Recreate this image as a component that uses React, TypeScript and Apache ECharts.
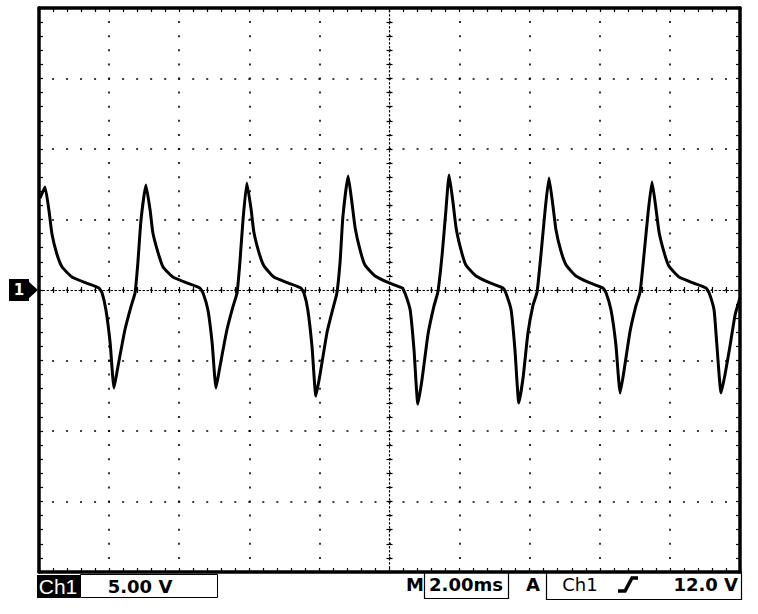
import React, { useEffect, useRef } from "react";
import * as echarts from "echarts";

// Time axis: 2.00 ms/div, 10 divisions. Voltage axis: 5.00 V/div, 8 divisions.
const timeMs: number[] = [
  0.03, 0.17, 0.29, 0.37, 0.51, 0.66, 0.94, 1.34, 1.71, 1.80, 1.91, 2.03, 2.14, 2.25, 2.45, 2.62, 2.74, 2.82, 2.91,
  3.05, 3.17, 3.25, 3.40, 3.54, 3.82, 4.22, 4.59, 4.68, 4.82, 4.94, 5.05, 5.16, 5.36, 5.53, 5.65, 5.73, 5.82,
  5.93, 6.05, 6.13, 6.28, 6.42, 6.70, 7.10, 7.47, 7.56, 7.67, 7.79, 7.90, 8.02, 8.22, 8.39, 8.50, 8.59, 8.67,
  8.82, 8.93, 9.02, 9.16, 9.30, 9.59, 9.99, 10.36, 10.44, 10.59, 10.70, 10.81, 10.93, 11.10, 11.27, 11.38, 11.50, 11.61,
  11.70, 11.81, 11.90, 12.04, 12.18, 12.47, 12.87, 13.24, 13.32, 13.47, 13.58, 13.69, 13.81, 13.95, 14.09, 14.21, 14.32, 14.44,
  14.55, 14.66, 14.75, 14.89, 15.04, 15.32, 15.72, 16.09, 16.18, 16.32, 16.46, 16.58, 16.69, 16.86, 17.03, 17.15, 17.26, 17.38,
  17.49, 17.60, 17.69, 17.83, 17.97, 18.26, 18.66, 19.03, 19.12, 19.26, 19.34, 19.46, 19.57, 19.71, 19.86, 20.0,
];

const voltsCh1: number[] = [
  6.52, 7.30, 5.53, 3.97, 2.55, 1.63, 0.92, 0.50, 0.14, -0.21, -1.42, -3.76, -6.95, -5.46, -2.84, -1.21, -0.21, 1.91, 4.96,
  7.45, 5.67, 4.04, 2.62, 1.63, 0.92, 0.50, 0.14, -0.21, -1.42, -3.76, -6.95, -5.46, -2.84, -1.21, -0.21, 1.91, 4.96,
  7.59, 5.74, 4.11, 2.62, 1.70, 0.92, 0.50, 0.14, -0.21, -1.42, -4.04, -7.52, -5.96, -2.98, -1.28, -0.21, 1.99, 5.18,
  8.09, 6.17, 4.40, 2.84, 1.77, 0.99, 0.50, 0.14, -0.21, -1.42, -4.26, -8.09, -6.31, -3.12, -1.13, -0.14, 2.48, 5.67,
  8.16, 6.24, 4.40, 2.84, 1.77, 0.99, 0.50, 0.14, -0.21, -1.42, -4.26, -8.01, -6.24, -3.05, -1.13, -0.14, 2.48, 5.67,
  7.94, 6.03, 4.26, 2.77, 1.77, 0.99, 0.50, 0.14, -0.21, -1.42, -3.90, -7.30, -5.74, -2.98, -1.13, -0.14, 2.48, 5.53,
  7.66, 5.82, 4.11, 2.70, 1.70, 0.92, 0.50, 0.14, -0.21, -1.42, -3.90, -7.30, -6.03, -4.04, -1.77, -0.57,
];

const channelName = "Ch1";
const voltsPerDiv = "5.00 V";
const timebaseLabel = "M";
const timePerDiv = "2.00ms";
const triggerMode = "A";
const triggerSource = "Ch1";
const triggerLevel = "12.0 V";
const groundMarker = "1";

const BLACK = "#000";
const STATUS_FONT = "DejaVu Sans";

export default function App() {
  const ref = useRef<HTMLDivElement>(null);

  useEffect(() => {
    if (!ref.current) return;
    const chart = echarts.init(ref.current, undefined, { renderer: "svg" });

    const frameAxis = (pos: string, extra: any) => ({
      type: "value",
      gridIndex: 0,
      position: pos,
      axisLine: { show: true, onZero: false, lineStyle: { color: BLACK, width: 3.5 } },
      axisTick: { show: true, inside: true, length: 4, lineStyle: { color: BLACK, width: 1.2 } },
      minorTick: { show: true, splitNumber: 5, length: 4, lineStyle: { color: BLACK, width: 1.2 } },
      axisLabel: { show: false },
      splitLine: { show: false },
      ...extra,
    });

    const centerAxis = (inside: boolean, showLine: boolean, extra: any) => ({
      type: "value",
      gridIndex: 1,
      axisLine: {
        show: showLine,
        onZero: true,
        onZeroAxisIndex: 2,
        lineStyle: { color: BLACK, width: 1.2, type: [1.5, 2.5] },
      },
      axisTick: { show: true, inside, length: 3, lineStyle: { color: BLACK, width: 1.2 } },
      minorTick: { show: true, splitNumber: 5, length: 3, lineStyle: { color: BLACK, width: 1.2 } },
      axisLabel: { show: false },
      splitLine: { show: false },
      ...extra,
    });

    const statusY = 586;

    chart.setOption({
      animation: false,
      backgroundColor: "#fff",
      grid: [
        { left: 39, top: 8, width: 701, height: 564, containLabel: false },
        { left: 39, top: 8, width: 701, height: 564, containLabel: false },
      ],
      xAxis: [
        frameAxis("bottom", {
          min: 0,
          max: 20,
          interval: 2,
          splitLine: {
            show: true,
            lineStyle: { color: BLACK, width: 1.6, type: [2, 12.1], dashOffset: 1 },
          },
        }),
        frameAxis("top", { min: 0, max: 20, interval: 2 }),
        centerAxis(true, true, { min: -10, max: 10, interval: 2, position: "bottom" }),
        centerAxis(false, false, { min: -10, max: 10, interval: 2, position: "bottom" }),
      ],
      yAxis: [
        frameAxis("left", {
          min: -20,
          max: 20,
          interval: 5,
          splitLine: {
            show: true,
            lineStyle: { color: BLACK, width: 1.6, type: [2, 12.02], dashOffset: 1 },
          },
        }),
        frameAxis("right", { min: -20, max: 20, interval: 5 }),
        centerAxis(true, true, { min: -20, max: 20, interval: 5, position: "left" }),
        centerAxis(false, false, { min: -20, max: 20, interval: 5, position: "left" }),
      ],
      series: [
        {
          type: "line",
          name: channelName,
          xAxisIndex: 0,
          yAxisIndex: 0,
          data: timeMs.map((t, i) => [t, voltsCh1[i]]),
          showSymbol: false,
          symbol: "none",
          smooth: 0.15,
          lineStyle: { color: BLACK, width: 3, join: "round" },
          z: 5,
        },
      ],
      graphic: [
        // ground reference marker
        { type: "rect", shape: { x: 9, y: 279, width: 20, height: 22 }, style: { fill: BLACK } },
        { type: "polygon", shape: { points: [[28, 281], [38, 290], [28, 299]] }, style: { fill: BLACK } },
        {
          type: "text",
          x: 19,
          y: 290,
          style: { text: groundMarker, fill: "#fff", font: `bold 15px ${STATUS_FONT}`, align: "center", verticalAlign: "middle" },
        },
        // status bar
        { type: "rect", shape: { x: 37, y: 575, width: 43, height: 23 }, style: { fill: BLACK } },
        {
          type: "text",
          x: 58,
          y: statusY,
          style: { text: channelName, fill: "#fff", font: `21px "Liberation Sans"`, align: "center", verticalAlign: "middle" },
        },
        { type: "rect", shape: { x: 80.5, y: 574.5, width: 137, height: 23 }, style: { fill: "none", stroke: BLACK, lineWidth: 1 } },
        {
          type: "text",
          x: 140,
          y: statusY,
          style: { text: voltsPerDiv, fill: BLACK, font: `bold 18px ${STATUS_FONT}`, align: "center", verticalAlign: "middle" },
        },
        {
          type: "text",
          x: 415,
          y: statusY - 2,
          style: { text: timebaseLabel, fill: BLACK, font: `bold 18px ${STATUS_FONT}`, align: "center", verticalAlign: "middle" },
        },
        { type: "rect", shape: { x: 424.5, y: 572.5, width: 84, height: 26 }, style: { fill: "none", stroke: BLACK, lineWidth: 1.2 } },
        {
          type: "text",
          x: 466,
          y: statusY - 2,
          style: { text: timePerDiv, fill: BLACK, font: `bold 18px ${STATUS_FONT}`, align: "center", verticalAlign: "middle" },
        },
        {
          type: "text",
          x: 533,
          y: statusY - 2,
          style: { text: triggerMode, fill: BLACK, font: `bold 18px ${STATUS_FONT}`, align: "center", verticalAlign: "middle" },
        },
        { type: "rect", shape: { x: 546.5, y: 572.5, width: 195, height: 27 }, style: { fill: "none", stroke: BLACK, lineWidth: 1.2 } },
        {
          type: "text",
          x: 580,
          y: statusY - 2,
          style: { text: triggerSource, fill: BLACK, font: `18px ${STATUS_FONT}`, align: "center", verticalAlign: "middle" },
        },
        {
          type: "polyline",
          shape: { points: [[618, 591], [625, 591], [632, 578], [638, 578]] },
          style: { stroke: BLACK, lineWidth: 3.5, fill: "none" },
        },
        {
          type: "text",
          x: 738,
          y: statusY - 2,
          style: { text: triggerLevel, fill: BLACK, font: `bold 18px ${STATUS_FONT}`, align: "right", verticalAlign: "middle" },
        },
      ],
    });

    return () => chart.dispose();
  }, []);

  return (
    <div
      ref={ref}
      style={{ position: "fixed", left: 0, top: 0, width: 758, height: 614, background: "#fff" }}
    />
  );
}
